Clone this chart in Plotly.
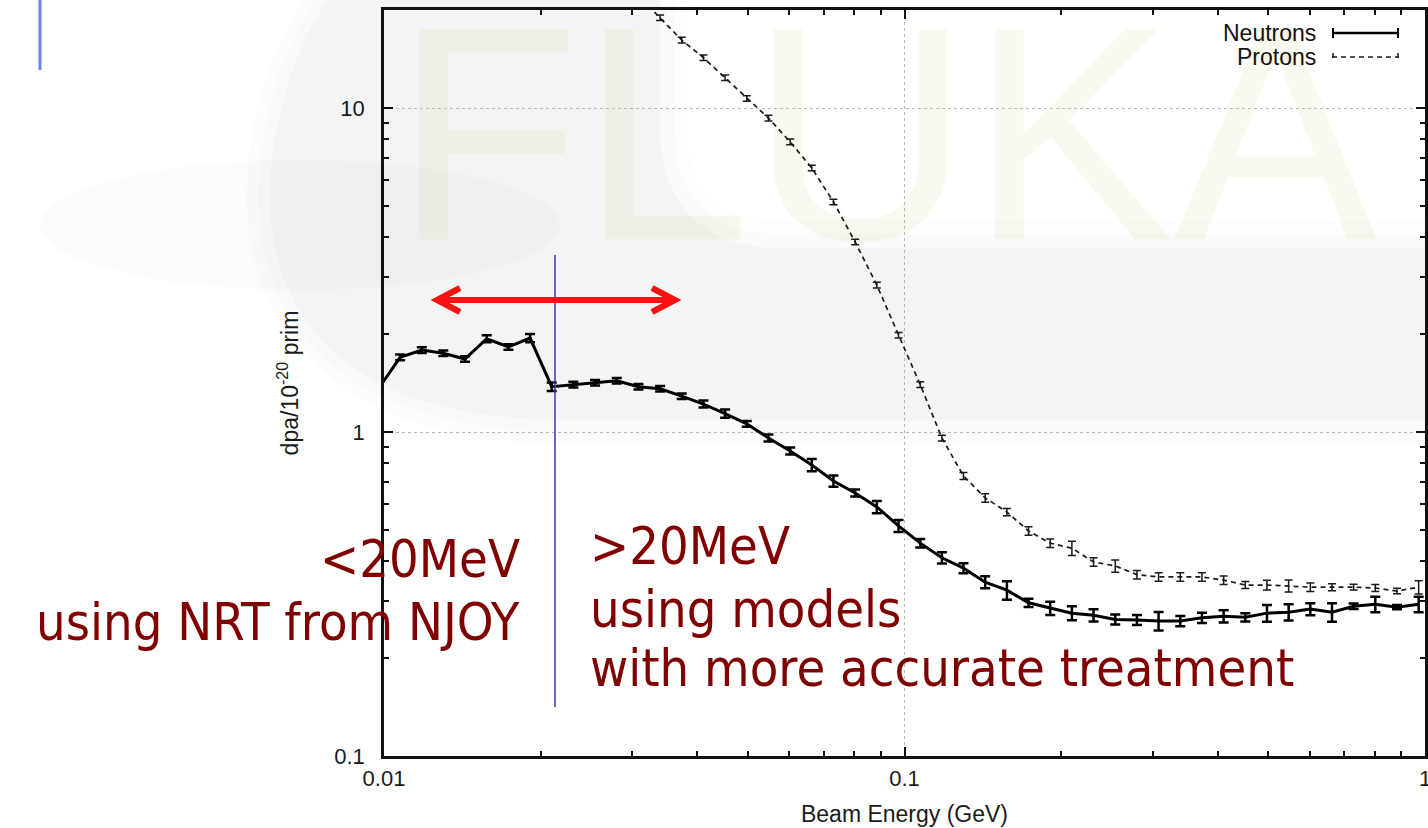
import plotly.graph_objects as go

# ---- data: displacement damage per primary vs beam energy ----
energy_gev = [
    0.009756, 0.01074, 0.01182, 0.01300, 0.01431, 0.01575, 0.01734, 0.01908,
    0.02100, 0.02311, 0.02544, 0.02800, 0.03082, 0.03392, 0.03733, 0.04109,
    0.04522, 0.04977, 0.05478, 0.06030, 0.06636, 0.07304, 0.08039, 0.08848,
    0.09739, 0.1072, 0.1180, 0.1298, 0.1429, 0.1573, 0.1731, 0.1905,
    0.2097, 0.2308, 0.2540, 0.2796, 0.3077, 0.3387, 0.3728, 0.4103,
    0.4516, 0.4970, 0.5470, 0.6021, 0.6627, 0.7293, 0.8027, 0.8835, 0.9724,
]
neutron_dpa = [
    1.36, 1.70, 1.79, 1.75, 1.68, 1.94, 1.83, 1.95,
    1.38, 1.40, 1.42, 1.44, 1.38, 1.36, 1.29, 1.22,
    1.14, 1.06, 0.958, 0.874, 0.791, 0.706, 0.648, 0.587,
    0.513, 0.454, 0.409, 0.380, 0.344, 0.325, 0.297, 0.286,
    0.276, 0.272, 0.264, 0.263, 0.261, 0.261, 0.267, 0.270,
    0.268, 0.276, 0.278, 0.284, 0.278, 0.290, 0.294, 0.288, 0.294,
]
neutron_err_pct = [
    2.0, 2.0, 2.0, 2.0, 2.0, 2.5, 2.0, 3.0,
    3.0, 2.0, 2.0, 2.0, 2.0, 2.0, 2.0, 2.5,
    3.0, 2.0, 2.5, 2.5, 4.3, 4.0, 2.5, 4.3,
    4.3, 3.0, 4.0, 3.5, 4.3, 6.6, 3.0, 4.7,
    5.0, 4.3, 3.6, 3.6, 6.6, 3.6, 3.6, 4.3,
    3.0, 6.0, 5.8, 4.3, 6.6, 2.0, 5.5, 1.5, 5.5,
]

proton_energy_gev = energy_gev[11:]
proton_dpa = [
    26.0, 22.2, 19.0, 16.2, 14.3, 12.4, 10.7, 9.31,
    7.86, 6.53, 5.13, 3.86, 2.84, 1.99, 1.40, 0.958,
    0.732, 0.626, 0.566, 0.495, 0.454, 0.438, 0.397, 0.386,
    0.363, 0.357, 0.357, 0.357, 0.349, 0.337, 0.337, 0.335,
    0.332, 0.332, 0.332, 0.330, 0.323, 0.332,
]
proton_err_pct = [
    2.0, 2.0, 2.0, 2.0, 2.0, 2.0, 2.0, 2.0,
    2.0, 2.0, 2.0, 2.0, 2.0, 2.0, 2.0, 2.0,
    2.5, 3.0, 2.5, 3.0, 3.0, 5.0, 3.0, 4.3,
    3.0, 3.0, 3.0, 3.0, 3.0, 2.5, 3.5, 4.3,
    3.0, 2.5, 2.0, 2.5, 2.0, 4.7,
]

x_tick_vals = [0.01, 0.1, 1]
x_tick_text = ["0.01", "0.1", "1"]
y_tick_vals = [0.1, 1, 10]
y_tick_text = ["0.1", "1", "10"]

neutron_err = [v * p / 100 for v, p in zip(neutron_dpa, neutron_err_pct)]
proton_err = [v * p / 100 for v, p in zip(proton_dpa, proton_err_pct)]

# ---- page geometry ----
W, H = 1428, 828
ML, MR, MT, MB = 384, 3, 10, 72
PW, PH = W - ML - MR, H - MT - MB


def px(xp):
    return (xp - ML) / PW


def py(yp):
    return (H - MB - yp) / PH


def pt(a, b):
    return f"{px(a):.5f},{py(b):.5f}"


def path(points):
    return "M " + " L ".join(pt(a, b) for a, b in points)


def band_path(grow):
    # rounded grey band of the slide background, enlarged by `grow` px
    g = grow
    return (
        "M " + pt(330 - g, -5) + " L " + pt(1440, -5) + " L " + pt(1440, 420 + g)
        + " L " + pt(560, 420 + g)
        + " C " + pt(360 - g, 418 + g) + " " + pt(272 - g, 330) + " " + pt(270 - g, 200)
        + " C " + pt(270 - g, 110) + " " + pt(300 - g, 40) + " " + pt(330 - g, -5) + " Z"
    )


def cap_path(grow):
    # white upper-right area inside the grey band, enlarged by `grow` px
    g = grow
    return (
        "M " + pt(660 - g, -10) + " L " + pt(1440, -10) + " L " + pt(1440, 248 + g)
        + " L " + pt(780, 248 + g)
        + " C " + pt(700 - g, 248 + g) + " " + pt(660 - g, 200) + " " + pt(660 - g, 130) + " Z"
    )


TICK_FONT = dict(family="Liberation Sans, Arial, sans-serif", size=22, color="#1a1a1a")
TITLE_FONT = dict(family="Liberation Sans, Arial, sans-serif", size=23, color="#1a1a1a")
NOTE_FONT = dict(family="DejaVu Sans Condensed, Noto Sans, sans-serif", size=52, color="#800000")
LEGEND_FONT = dict(family="Liberation Sans, Arial, sans-serif", size=23, color="#111")

minor_x = [m * d for d in (0.01, 0.1) for m in range(2, 10)]
minor_y = [m * d for d in (0.1, 1) for m in range(2, 10)] + [20]

fig = go.Figure()

# faint slide watermark behind the curves
fig.add_trace(go.Scatter(
    x=[0.092], y=[6.77], mode="text", text=["FLUKA"],
    textfont=dict(family="Liberation Sans, Arial", size=305, color="rgba(215,215,150,0.15)"),
    cliponaxis=False, hoverinfo="skip", showlegend=False,
))

fig.add_trace(go.Scatter(
    x=energy_gev, y=neutron_dpa, mode="lines", name="Neutrons",
    line=dict(color="black", width=3),
    error_y=dict(type="data", array=neutron_err, color="black", thickness=2.5, width=5),
    showlegend=False,
))
fig.add_trace(go.Scatter(
    x=proton_energy_gev, y=proton_dpa, mode="lines", name="Protons",
    line=dict(color="#1a1a1a", width=1.7, dash="5px,4px"),
    error_y=dict(type="data", array=proton_err, color="#1a1a1a", thickness=1.5, width=4),
    showlegend=False,
))

axis_common = dict(
    type="log", showline=True, linecolor="#111", linewidth=2.5, mirror="allticks",
    ticks="inside", ticklen=9, tickwidth=1.5, tickcolor="#111",
    showgrid=True, gridcolor="#b8b8b8", griddash="dot", gridwidth=1,
    zeroline=False, automargin=False, tickfont=TICK_FONT, ticklabeloverflow="allow",
)

fig.update_layout(
    width=W, height=H, template="none",
    margin=dict(l=ML, r=MR, t=MT, b=MB, pad=0),
    paper_bgcolor="white", plot_bgcolor="rgba(0,0,0,0)",
    showlegend=False,
    xaxis=dict(
        axis_common, range=[-2, 0], tickvals=x_tick_vals, ticktext=x_tick_text,
        ticklabelstandoff=1,
        minor=dict(ticks="inside", ticklen=5, tickwidth=1.5, tickcolor="#111",
                   tickvals=minor_x, showgrid=False),
        title=dict(text="Beam Energy (GeV)", font=TITLE_FONT, standoff=16),
    ),
    yaxis=dict(
        axis_common, range=[-1, 1.3025], tickvals=y_tick_vals, ticktext=y_tick_text,
        ticklabelstandoff=12,
        minor=dict(ticks="inside", ticklen=5, tickwidth=1.5, tickcolor="#111",
                   tickvals=minor_y, showgrid=False),
        title=dict(text="dpa/10<sup>-20</sup> prim", font=TITLE_FONT, standoff=30),
    ),
)

shapes = []
# soft grey swoosh: stacked translucent layers give a gentle edge
for grow, alpha in ((24, 0.010), (12, 0.012), (0, 0.020)):
    shapes.append(dict(type="path", xref="paper", yref="paper", layer="below", path=band_path(grow),
                       fillcolor=f"rgba(0,0,0,{alpha})", line=dict(width=0)))
for grow, alpha in ((0, 0.5), (-14, 0.6), (-28, 1.0)):
    shapes.append(dict(type="path", xref="paper", yref="paper", layer="below", path=cap_path(grow),
                       fillcolor=f"rgba(255,255,255,{alpha})", line=dict(width=0)))
shapes.append(dict(type="circle", xref="paper", yref="paper", layer="below",
                   x0=px(40), x1=px(560), y0=py(290), y1=py(160),
                   fillcolor="rgba(0,0,0,0.014)", line=dict(width=0)))

shapes += [
    # slide accent bar
    dict(type="line", xref="paper", yref="paper", x0=px(40), x1=px(40), y0=py(0), y1=py(70),
         line=dict(color="#6a80f0", width=3)),
    # 20 MeV divider
    dict(type="line", xref="paper", yref="paper", x0=px(555), x1=px(555), y0=py(255), y1=py(707),
         line=dict(color="#3c3c9c", width=1.5)),
    # red double arrow
    dict(type="line", xref="paper", yref="paper", x0=px(440), x1=px(670), y0=py(300), y1=py(300),
         line=dict(color="#ff1010", width=6)),
    dict(type="path", xref="paper", yref="paper",
         path=path([(460, 288), (437, 300), (460, 312)]), line=dict(color="#ff1010", width=6)),
    dict(type="path", xref="paper", yref="paper",
         path=path([(652, 288), (675, 300), (652, 312)]), line=dict(color="#ff1010", width=6)),
    # legend samples
    dict(type="line", xref="paper", yref="paper", x0=px(1332), x1=px(1399), y0=py(33), y1=py(33),
         line=dict(color="black", width=2.5)),
    dict(type="line", xref="paper", yref="paper", x0=px(1333), x1=px(1333), y0=py(28), y1=py(38),
         line=dict(color="black", width=2)),
    dict(type="line", xref="paper", yref="paper", x0=px(1398), x1=px(1398), y0=py(28), y1=py(38),
         line=dict(color="black", width=2)),
    dict(type="line", xref="paper", yref="paper", x0=px(1332), x1=px(1399), y0=py(57), y1=py(57),
         line=dict(color="#1a1a1a", width=1.5, dash="5px,4px")),
    dict(type="line", xref="paper", yref="paper", x0=px(1333), x1=px(1333), y0=py(53), y1=py(58),
         line=dict(color="#1a1a1a", width=1.5)),
    dict(type="line", xref="paper", yref="paper", x0=px(1398), x1=px(1398), y0=py(53), y1=py(58),
         line=dict(color="#1a1a1a", width=1.5)),
]

annotations = [
    dict(text="Neutrons", x=px(1318), y=py(33), xanchor="right", yanchor="middle", font=LEGEND_FONT),
    dict(text="Protons", x=px(1318), y=py(57), xanchor="right", yanchor="middle", font=LEGEND_FONT),
    dict(text="&lt;20MeV", x=px(522), y=py(559), xanchor="right", yanchor="middle", font=NOTE_FONT),
    dict(text="using NRT from NJOY", x=px(522), y=py(622), xanchor="right", yanchor="middle", font=NOTE_FONT),
    dict(text="&gt;20MeV", x=px(588), y=py(546), xanchor="left", yanchor="middle", font=NOTE_FONT),
    dict(text="using models", x=px(588), y=py(609), xanchor="left", yanchor="middle", font=NOTE_FONT),
    dict(text="with more accurate treatment", x=px(588), y=py(668), xanchor="left", yanchor="middle", font=NOTE_FONT),
]
for a in annotations:
    a.update(xref="paper", yref="paper", showarrow=False)

fig.update_layout(shapes=shapes, annotations=annotations)

fig.write_html("out.html")
